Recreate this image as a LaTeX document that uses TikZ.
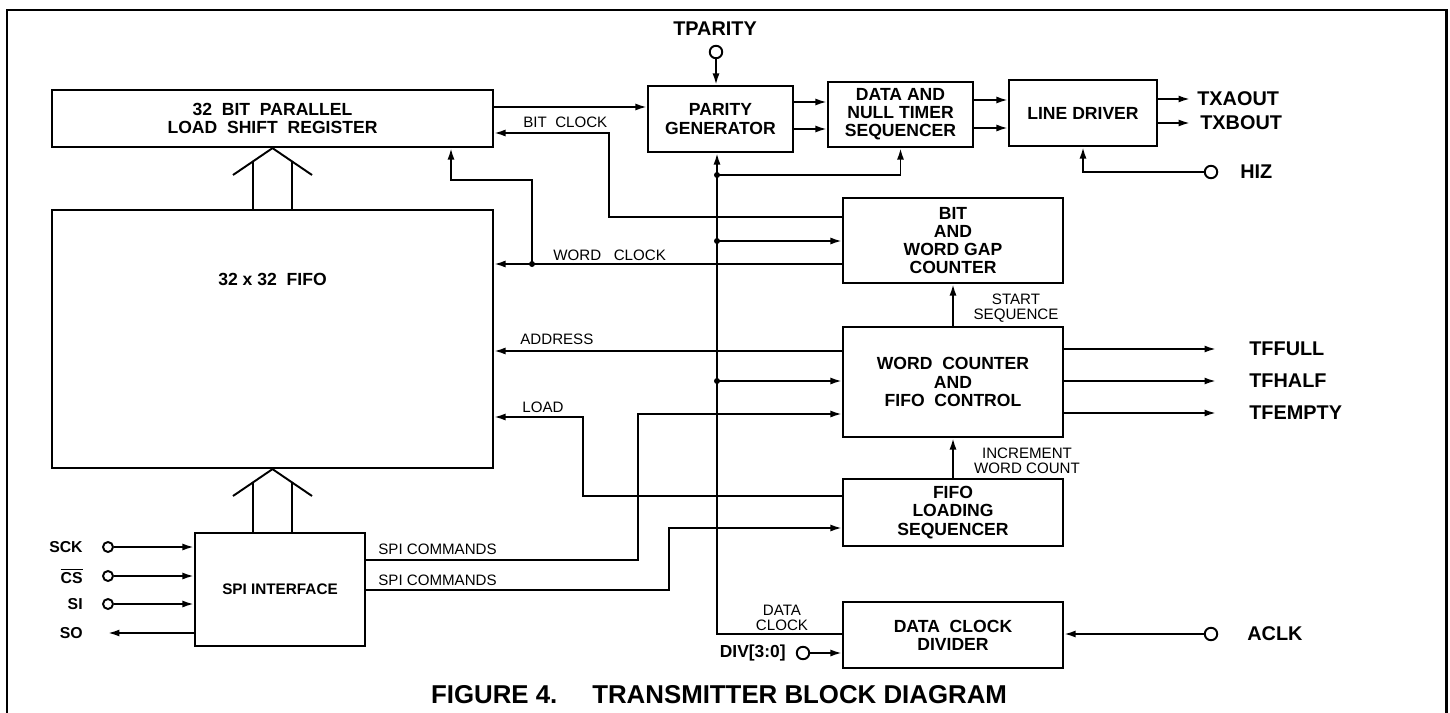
\documentclass[tikz,border=0pt]{standalone}
\usepackage{fontspec}
\setmainfont{Liberation Sans}
\usetikzlibrary{arrows.meta, positioning, calc}

\newcommand{\blkfont}{\fontsize{10}{10.3}\selectfont\bfseries}
\newcommand{\spifont}{\fontsize{8.7}{10}\selectfont\bfseries}
\newcommand{\pinfont}{\fontsize{11.3}{13}\selectfont\bfseries}
\newcommand{\spipinfont}{\fontsize{9}{10}\selectfont\bfseries}
\newcommand{\divfont}{\fontsize{9.9}{11}\selectfont\bfseries}
\newcommand{\sigfont}{\fontsize{8.6}{8.6}\selectfont}
\newcommand{\titlefont}{\fontsize{14.7}{16}\selectfont\bfseries}

\begin{document}
\begin{tikzpicture}[x=0.02cm, y=-0.02cm, >={Latex[length=6.5pt,width=4pt]},
  blk/.style={draw, line width=1.3pt, inner sep=0pt, align=center, font=\blkfont},
  sig/.style={line width=1.1pt},
  bus/.style={line width=1.1pt},
  pinc/.style={circle, draw, line width=1.1pt, fill=white, inner sep=0pt, minimum size=0.25cm},
  jdot/.style={circle, fill, inner sep=0pt, minimum size=0.12cm},
  pinlbl/.style={font=\pinfont, inner sep=0pt},
  siglbl/.style={font=\sigfont, inner sep=0pt, align=center}]
  \useasboundingbox (0,0) rectangle (1450,713);
  \draw[line width=1.7pt] (7,713) -- (7,10) -- (1446,10) -- (1446,713);

  % blocks
  \node[blk, minimum width=8.82cm, minimum height=1.14cm] (shreg) at (272.5,118.5) {32~~BIT~~PARALLEL\\LOAD~~SHIFT~~REGISTER};
  \node[blk, minimum width=8.82cm, minimum height=5.16cm] (fifo) at (272.5,339) {};
  \node[font=\blkfont] (fifolbl) at (272.5,279) {32 x 32~~FIFO};
  \node[blk, minimum width=2.9cm, minimum height=1.32cm] (parity) at (720.5,119) {PARITY\\GENERATOR};
  \node[blk, minimum width=2.9cm, minimum height=1.3cm] (dnts) at (900.5,114.5) {DATA AND\\NULL TIMER\\SEQUENCER};
  \node[blk, minimum width=2.96cm, minimum height=1.32cm] (ldrv) at (1083,113) {LINE DRIVER};
  \node[blk, minimum width=4.4cm, minimum height=1.7cm] (gapcnt) at (953,240.5) {BIT\\AND\\WORD GAP\\COUNTER};
  \node[blk, minimum width=4.4cm, minimum height=2.2cm] (wcfc) at (953,382) {WORD~~COUNTER\\AND\\FIFO~~CONTROL};
  \node[blk, minimum width=4.4cm, minimum height=1.34cm] (fls) at (953,512.5) {FIFO\\LOADING\\SEQUENCER};
  \node[blk, minimum width=4.4cm, minimum height=1.32cm] (dcd) at (953,635) {DATA~~CLOCK\\DIVIDER};
  \node[blk, minimum width=3.4cm, minimum height=2.26cm, font=\spifont] (spi) at (280,589.5) {SPI INTERFACE};

  % parallel buses
  \draw[bus] (233,175) -- (shreg.south) -- (312,175);
  \draw[bus] (253,161.5) -- (253,210);
  \draw[bus] (292,161) -- (292,210);
  \draw[bus] (233,496) -- (fifo.south) -- (312,496);
  \draw[bus] (253,482.5) -- (253,533);
  \draw[bus] (292,482) -- (292,533);

  % serial path
  \draw[sig,->] (shreg.east |- 0,107) -- (parity.west |- 0,107);
  \draw[sig,->] (parity.east |- 0,102) -- (dnts.west |- 0,102);
  \draw[sig,->] (parity.east |- 0,129) -- (dnts.west |- 0,129);
  \draw[sig,->] (dnts.east |- 0,100) -- (ldrv.west |- 0,100);
  \draw[sig,->] (dnts.east |- 0,128) -- (ldrv.west |- 0,128);
  \node[pinlbl, anchor=west] (txa) at (1197,99) {TXAOUT};
  \node[pinlbl, anchor=west] (txb) at (1200,123) {TXBOUT};
  \draw[sig,->] (ldrv.east |- txa) -- ([xshift=-4pt]txa.west);
  \draw[sig,->] (ldrv.east |- txb) -- ([xshift=-5.7pt]txb.west);

  % tparity and hiz
  \node[pinc] (tpar) at (716,52) {};
  \node[pinlbl] (tparlbl) at (715,29) {TPARITY};
  \draw[sig,->] (tpar) -- (tpar |- parity.north);
  \node[pinc] (hizpin) at (1211,172) {};
  \node[pinlbl, anchor=west] (hizlbl) at (1240,172) {HIZ};
  \draw[sig,->] (hizpin) -| (ldrv.south);

  % data clock bus
  \node[jdot] (ckA) at (717,175) {};
  \node[jdot] (ckB) at (717,241) {};
  \node[jdot] (ckC) at (717,381) {};
  \coordinate (dclk) at (717,634);
  \draw[sig,->] (dcd.west |- dclk) -- (dclk) -- (dclk |- parity.south);
  \draw[sig,->] (ckA.center) -| (dnts.south);
  \draw[sig,->] (ckB.center) -- (gapcnt.west |- ckB);
  \draw[sig,->] (ckC.center) -- (wcfc.west |- ckC);

  % clocks to shift register and fifo
  \coordinate (bcB) at (609,133);
  \draw[sig,->] (gapcnt.west |- 0,217) -| (bcB) -- (shreg.east |- bcB);
  \node[jdot] (wcdot) at (532,264) {};
  \coordinate (wcB) at (451,180);
  \draw[sig,->] (gapcnt.west |- wcdot) -- (fifo.east |- wcdot);
  \draw[sig,->] (wcdot.center) |- (wcB) -- (wcB |- shreg.south);

  % address, load, spi commands
  \draw[sig,->] (wcfc.west |- 0,351) -- (fifo.east |- 0,351);
  \coordinate (ldA) at (583,417);
  \draw[sig,->] (fls.west |- 0,496) -| (ldA) -- (fifo.east |- ldA);
  \coordinate (sc1) at (638,414);
  \draw[sig,->] (spi.east |- 0,560) -| (sc1) -- (wcfc.west |- sc1);
  \coordinate (sc2) at (669,528);
  \draw[sig,->] (spi.east |- 0,590) -| (sc2) -- (fls.west |- sc2);

  \draw[sig,->] (wcfc.north) -- (gapcnt.south);
  \draw[sig,->] (fls.north) -- (wcfc.south);

  % fifo flags
  \foreach \yy/\txt/\nm in {349/TFFULL/tff, 381/TFHALF/tfh, 413/TFEMPTY/tfe} {
    \node[pinlbl, anchor=west] (\nm) at (1249,\yy) {\txt};
    \draw[sig,->] (wcfc.east |- \nm) -- ([xshift=-18.8pt]\nm.west);
  }

  % clock inputs
  \node[pinc] (aclkpin) at (1211,634) {};
  \node[pinlbl, anchor=west] (aclklbl) at (1247,634) {ACLK};
  \draw[sig,->] (aclkpin) -- (dcd.east |- aclkpin);
  \node[pinc] (divpin) at (803,653) {};
  \node[pinlbl, font=\divfont, anchor=east] (divlbl) at (786,653) {DIV[3:0]};
  \draw[sig,->] (divpin) -- (dcd.west |- divpin);

  % spi pins
  \foreach \yy/\txt/\nm in {547/SCK/sck, 576/{$\overline{\mbox{CS}}$}/cs, 604/SI/si} {
    \node[pinc, minimum size=0.2cm] (\nm) at (108,\yy) {};
    \node[pinlbl, font=\spipinfont, anchor=east] (\nm lbl) at (83,\yy) {\txt};
    \draw[sig,->] (\nm) -- (spi.west |- \nm);
  }
  \coordinate (so) at (108,633);
  \node[pinlbl, font=\spipinfont, anchor=east] (solbl) at (83,633) {SO};
  \draw[sig,->] (spi.west |- so) -- (so);

  % signal labels
  \node[siglbl, anchor=west] (bclbl) at (523,122) {BIT~~CLOCK};
  \node[siglbl, anchor=west] (wclbl) at (553,255) {WORD~~~CLOCK};
  \node[siglbl, anchor=west] (adrlbl) at (520,339) {ADDRESS};
  \node[siglbl, anchor=west] (ldlbl) at (522,407) {LOAD};
  \node[siglbl, anchor=west] (sc1lbl) at (378,549) {SPI COMMANDS};
  \node[siglbl, anchor=west] (sc2lbl) at (378,580) {SPI COMMANDS};
  \node[siglbl] (sslbl) at (1016,308.5) {START\\SEQUENCE};
  \node[siglbl] (iwlbl) at (1027,460.5) {INCREMENT\\WORD COUNT};
  \node[siglbl] (dclbl) at (782,617.5) {DATA\\CLOCK};

  \node[font=\titlefont] (title) at (719,695) {FIGURE 4.\hspace{19.9pt}TRANSMITTER BLOCK DIAGRAM};
\end{tikzpicture}
\end{document}
